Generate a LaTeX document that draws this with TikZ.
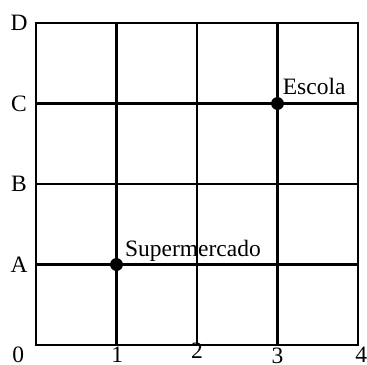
\documentclass[tikz,border=0pt]{standalone}
\usepackage{fontspec}
\setmainfont{Liberation Serif}
\usetikzlibrary{positioning}

\tikzset{
	gridline/.style={line width=0.9pt},
	rua/.style={font=\fontsize{8.3}{9}\selectfont, inner sep=0pt},
	ponto/.style={circle, fill, inner sep=0pt, minimum size=0.16cm}
}

\begin{document}
\begin{tikzpicture}
	\useasboundingbox (-0.447,-0.248) rectangle (4.112,4.286);
	\draw[line width=0.4pt] (0,0) rectangle (4,4);
	\foreach \i in {1,2,3} {
		\draw[gridline] (\i,0) -- (\i,4);
		\draw[gridline] (0,\i) -- (4,\i);}
	% eixos
	\node[rua] (zero) at (-0.22,-0.125) {0};
	\node[rua] (x1) at (1.01,-0.125) {1};
	\node[rua] (x2) at (2.0,-0.07) {2};
	\node[rua] (x3) at (3.0,-0.135) {3};
	\node[rua] (x4) at (4.04,-0.125) {4};
	\foreach \l [count=\j] in {A,B,C,D}
		\node[rua] (y\l) at (-0.21,\j) {\l};
	% pontos
	\node[ponto] (supermercado) at (1,1) {};
	\node[ponto] (escola) at (3,3) {};
	\node[rua, anchor=base west, xshift=0.1cm, yshift=0.1cm] (supermercadotxt) at (supermercado.center) {Supermercado};
	\node[rua, anchor=base west, xshift=0.06cm, yshift=0.11cm] (escolatxt) at (escola.center) {Escola};
\end{tikzpicture}
\end{document}
